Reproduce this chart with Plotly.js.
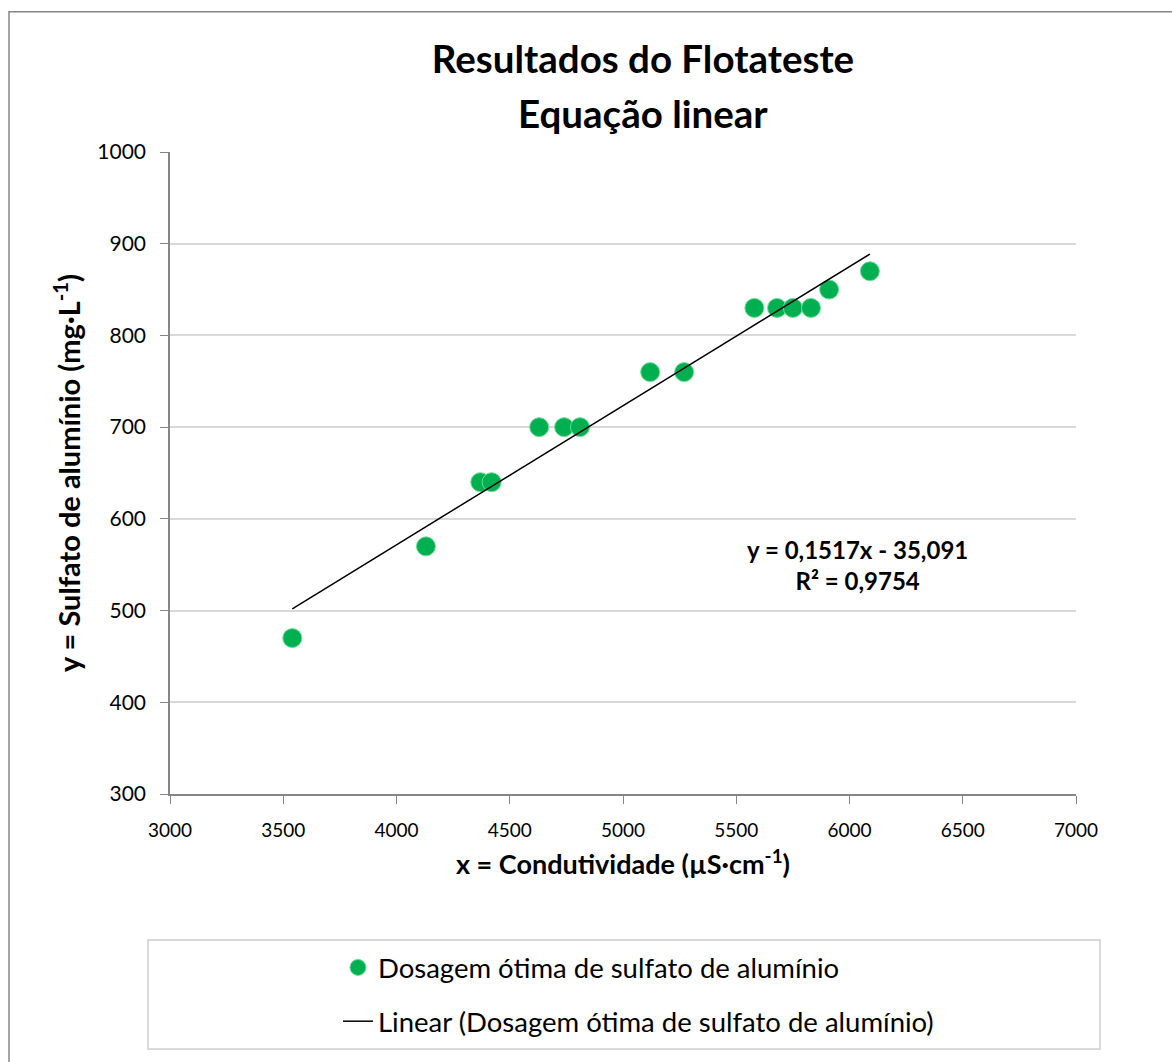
<!DOCTYPE html>
<html>
<head>
<meta charset="utf-8">
<script src="https://cdn.plot.ly/plotly-3.0.1.min.js"></script>
<style>
  html, body { margin: 0; padding: 0; background: #ffffff; }
  #chart { width: 1172px; height: 1062px; }
</style>
</head>
<body>
<div id="chart"></div>
<script>
// Flotateste: condutividade x dosagem ótima de sulfato de alumínio
const condutividade = [3540, 4130, 4370, 4420, 4630, 4740, 4810, 5120, 5270, 5580, 5680, 5750, 5830, 5910, 6090];
const dosagem       = [470, 570, 640, 640, 700, 700, 700, 760, 760, 830, 830, 830, 830, 850, 870];

// Regressão linear (coeficientes da equação exibida no gráfico)
const inclinacao = 0.1517;
const intercepto = -35.091;
const r2 = 0.9754;

const xTicks = [3000, 3500, 4000, 4500, 5000, 5500, 6000, 6500, 7000];
const yTicks = [300, 400, 500, 600, 700, 800, 900, 1000];

const serieNome = 'Dosagem ótima de sulfato de alumínio';
const tendNome = 'Linear (Dosagem ótima de sulfato de alumínio)';

const xMin = Math.min(...condutividade);
const xMax = Math.max(...condutividade);
const trendX = [xMin, xMax];
const trendY = trendX.map(v => inclinacao * v + intercepto);

const fmt = (v, d) => v.toFixed(d).replace('.', ',');
const eqText = 'y = ' + fmt(inclinacao, 4) + 'x - ' + fmt(Math.abs(intercepto), 3) +
               '<br>R² = ' + fmt(r2, 4);

const FONT = 'Lato, "Open Sans", sans-serif';
const AXIS = '#868686';
const GRID = '#D9D9D9';

const traces = [
  {
    x: condutividade, y: dosagem,
    type: 'scatter', mode: 'markers',
    name: serieNome, legendgroup: 'a',
    marker: { color: '#00B050', size: 19, line: { color: '#6EDB97', width: 1 } },
    hoverinfo: 'x+y'
  },
  {
    x: trendX, y: trendY,
    type: 'scatter', mode: 'lines',
    name: tendNome, legendgroup: 'b',
    line: { color: '#000000', width: 1.5 },
    hoverinfo: 'skip'
  }
];

const layout = {
  width: 1172, height: 1062,
  margin: { l: 170, r: 96, t: 152, b: 268 },
  paper_bgcolor: '#ffffff', plot_bgcolor: '#ffffff',
  font: { family: FONT, color: '#000000' },
  title: {
    text: '<b>Resultados do Flotateste</b>',
    font: { family: FONT, size: 38.5, color: '#000000' },
    xref: 'paper', x: 0.522, xanchor: 'center',
    yref: 'container', y: 1 - 60 / 1062, yanchor: 'middle'
  },
  xaxis: {
    range: [3000, 7000], tickvals: xTicks, ticktext: xTicks.map(String),
    showgrid: false, zeroline: false,
    showline: true, linecolor: AXIS, linewidth: 1.5,
    ticks: 'outside', ticklen: 8, tickcolor: AXIS, tickwidth: 1.2,
    tickfont: { family: FONT, size: 19, color: '#000000' },
    ticklabelstandoff: 10,
    title: { text: '<b>x = Condutividade (µS·cm<sup>-1</sup>)</b>', font: { family: FONT, size: 27, color: '#000000' }, standoff: 16 }
  },
  yaxis: {
    range: [300, 1000], tickvals: yTicks, ticktext: yTicks.map(String),
    showgrid: true, gridcolor: GRID, gridwidth: 1.5, zeroline: false,
    showline: true, linecolor: AXIS, linewidth: 1.5,
    ticks: 'outside', ticklen: 8, tickcolor: AXIS, tickwidth: 1.2,
    tickfont: { family: FONT, size: 21, color: '#000000' },
    ticklabelstandoff: 10,
    title: { text: '<b>y = Sulfato de alumínio (mg·L<sup>-1</sup>)</b>', font: { family: FONT, size: 29, color: '#000000' }, standoff: 8 }
  },
  // segunda camada de eixos: marcas de escala cruzando as linhas dos eixos
  xaxis2: {
    overlaying: 'x', anchor: 'y', side: 'bottom', matches: 'x',
    range: [3000, 7000], tickvals: xTicks,
    showticklabels: false, showgrid: false, zeroline: false, showline: false,
    ticks: 'inside', ticklen: 8, tickcolor: AXIS, tickwidth: 1.2
  },
  yaxis2: {
    overlaying: 'y', anchor: 'x', side: 'left', matches: 'y',
    range: [300, 1000], tickvals: yTicks,
    showticklabels: false, showgrid: false, zeroline: false, showline: false,
    ticks: 'inside', ticklen: 8, tickcolor: AXIS, tickwidth: 1.2
  },
  showlegend: true,
  legend: {
    x: 0.1854, xanchor: 'left', y: (794 - 943) / 641.7, yanchor: 'top',
    orientation: 'v', traceorder: 'grouped', tracegroupgap: 15,
    bgcolor: 'rgba(0,0,0,0)', borderwidth: 0,
    font: { family: FONT, size: 27.5, color: '#000000' }
  },
  annotations: [
    {
      text: '<b>Equação linear</b>', showarrow: false,
      xref: 'paper', x: 0.522, xanchor: 'center',
      yref: 'paper', y: (794 - 113) / 641.7, yanchor: 'middle',
      font: { family: FONT, size: 38.5, color: '#000000' }
    },
    {
      text: '<b>' + eqText + '</b>', showarrow: false,
      xref: 'x', x: 6037, xanchor: 'center',
      yref: 'y', y: 550, yanchor: 'middle',
      font: { family: FONT, size: 24, color: '#000000' }, align: 'center'
    }
  ],
  shapes: [
    { type: 'rect', xref: 'paper', yref: 'paper',
      x0: (148 - 170) / 906, x1: (1100 - 170) / 906,
      y0: (794 - 1049) / 641.7, y1: (794 - 940) / 641.7,
      line: { color: GRID, width: 2 }, fillcolor: 'rgba(0,0,0,0)', layer: 'below' },
    { type: 'rect', xref: 'paper', yref: 'paper',
      x0: (9 - 170) / 906, x1: (1180 - 170) / 906,
      y0: (794 - 1075) / 641.7, y1: (794 - 12) / 641.7,
      line: { color: AXIS, width: 1.5 }, fillcolor: 'rgba(0,0,0,0)', layer: 'below' }
  ]
};

Plotly.newPlot('chart', traces, layout, { displayModeBar: false, responsive: false });
</script>
</body>
</html>
